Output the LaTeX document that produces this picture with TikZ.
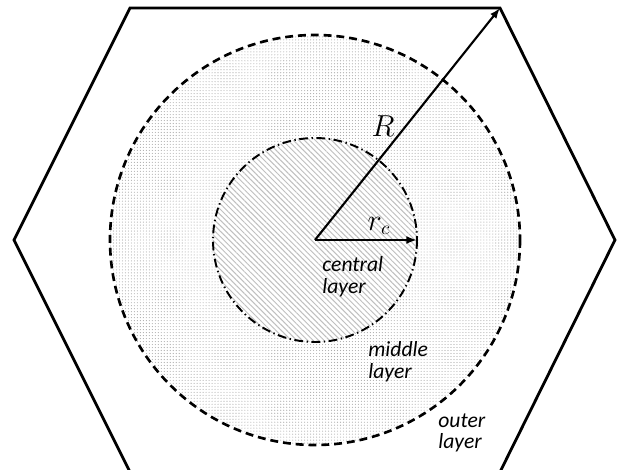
\documentclass[tikz,border=0pt]{standalone}
\usepackage{fontspec}
\setmainfont{Carlito}
\usepackage{tikz}
\usetikzlibrary{arrows.meta,positioning,patterns.meta}

\begin{document}
\begin{tikzpicture}[
  x=0.02cm,y=-0.02cm,
  wall/.style={draw,line width=1.6pt,line join=miter},
  midcirc/.style={draw,line width=1.5pt,dash pattern=on 4.5pt off 2.8pt},
  corecirc/.style={draw,line width=1.1pt,dash pattern=on 5pt off 2pt on 0.8pt off 2pt},
  lbl/.style={font=\fontsize{12.3}{12.5}\selectfont\itshape,align=left,
              inner sep=0pt,anchor=north west},
  arr/.style={-{Latex[length=6pt,width=4.5pt]},line width=1.2pt}
]
\useasboundingbox (0,0) rectangle (620,470);
% Hexagon corners
\coordinate (h1) at (130,8);
\coordinate (h2) at (500,8);
\coordinate (h3) at (615,240);
\coordinate (h4) at (500,472);
\coordinate (h5) at (130,472);
\coordinate (h6) at (14,240);
\coordinate (ctr) at (315,240);
\coordinate (rim) at (417,240);
% Middle layer
\path[pattern={Dots[distance=1.7pt,radius=0.32pt]},pattern color=gray!65]
  (ctr) circle[radius=205];
% Central layer
\fill[white] (ctr) circle[radius=102];
\path[pattern={Lines[angle=-45,distance=2.2pt,line width=0.55pt]},pattern color=gray!50]
  (ctr) circle[radius=102];
\path[midcirc] (ctr) circle[radius=205];
\path[corecirc] (ctr) circle[radius=102];
% Outer boundary
\draw[wall] (h1) -- (h2) -- (h3) -- (h4) -- (h5) -- (h6) -- cycle;
% Radii
\draw[arr] (ctr) -- (h2);
\draw[arr] (ctr) -- (rim);
\node[font=\fontsize{16}{18}\selectfont] (lR) at (383,126) {$R$};
\node[font=\fontsize{16}{18}\selectfont] (lrc) at (379,226) {$r_c$};
% Layer names
\node[lbl] (lcen) at (322,256) {central\\layer};
\node[lbl] (lmid) at (368,341) {middle\\layer};
\node[lbl] (lout) at (438,413) {outer\\layer};
\end{tikzpicture}
\end{document}
